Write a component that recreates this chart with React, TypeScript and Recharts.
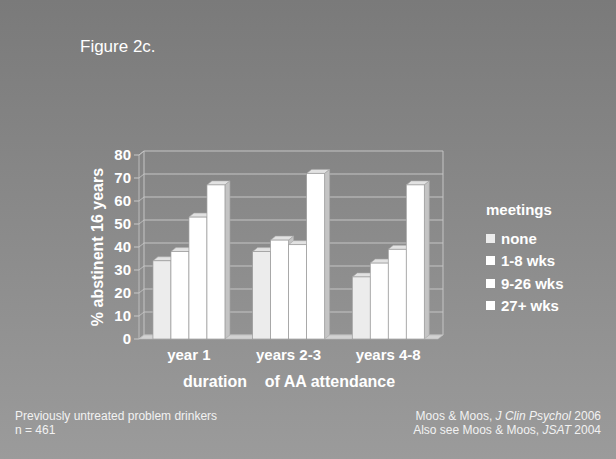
import React from 'react'
import { BarChart, Bar, XAxis, YAxis, CartesianGrid, ReferenceArea } from 'recharts'

const categories = ['year 1', 'years 2-3', 'years 4-8']
const seriesNames = ['none', '1-8 wks', '9-26 wks', '27+ wks']
const seriesKeys = ['none', 'w1_8', 'w9_26', 'w27']
const seriesColors = ['#ececec', '#ffffff', '#ffffff', '#ffffff']
const noneValues = [34, 38, 27]
const w1_8Values = [38, 43, 33]
const w9_26Values = [53, 41, 39]
const w27Values = [67, 72, 67]
const yTicks = [0, 10, 20, 30, 40, 50, 60, 70, 80]

const data = categories.map((c, i) => ({
  name: c,
  none: noneValues[i],
  w1_8: w1_8Values[i],
  w9_26: w9_26Values[i],
  w27: w27Values[i],
}))

// fake 3D depth
const DX = 5
const DY = -4
const font = 'Arial, "Liberation Sans", sans-serif'

function Bar3D(props: any) {
  const { x, y, width, height, fill } = props
  if (width == null || height == null) return null
  return (
    <g>
      <polygon
        points={`${x},${y} ${x + width},${y} ${x + width + DX},${y + DY} ${x + DX},${y + DY}`}
        fill="#e2e2e2"
        stroke="#a8a8a8"
        strokeWidth={0.6}
      />
      <polygon
        points={`${x + width},${y} ${x + width + DX},${y + DY} ${x + width + DX},${y + height + DY} ${x + width},${y + height}`}
        fill="#c4c4c4"
        stroke="#a8a8a8"
        strokeWidth={0.6}
      />
      <rect x={x} y={y} width={width} height={height} fill={fill} stroke="#9a9a9a" strokeWidth={0.7} />
    </g>
  )
}

function Walls(props: any) {
  const { x, y, width, height } = props
  const b = y + height
  return (
    <g>
      <polygon
        points={`${x},${b} ${x + width},${b} ${x + width + DX},${b + DY} ${x + DX},${b + DY}`}
        fill="#d2d2d2"
        stroke="#b8b8b8"
        strokeWidth={0.6}
      />
      <polyline
        points={`${x},${b} ${x},${y} ${x + DX},${y + DY}`}
        fill="none"
        stroke="#c8c8c8"
        strokeWidth={0.8}
      />
      {yTicks.map((t) => {
        const ty = b - (height * t) / 80
        return <line key={t} x1={x} y1={ty} x2={x + DX} y2={ty + DY} stroke="#c8c8c8" strokeWidth={0.8} />
      })}
    </g>
  )
}

export default function App() {
  return (
    <div
      style={{
        position: 'absolute',
        left: 0,
        top: 0,
        width: 616,
        height: 459,
        overflow: 'hidden',
        background: 'linear-gradient(to bottom, #7a7a7a 0%, #9b9b9b 100%)',
        fontFamily: font,
      }}
    >
      <div style={{ position: 'absolute', left: 80, top: 37, fontSize: 17, color: '#fff' }}>Figure 2c.</div>

      <BarChart
        width={616}
        height={459}
        data={data}
        margin={{ top: 155, right: 178, left: 109, bottom: 90 }}
        barCategoryGap="14%"
        barGap={0}
      >
        <CartesianGrid
          x={139 + DX}
          y={155 + DY}
          width={299}
          height={184}
          stroke="#c4c4c4"
          strokeWidth={1}
          horizontalCoordinatesGenerator={({ offset }: any) =>
            yTicks.map((t) => offset.top + offset.height * (1 - t / 80) + DY)
          }
          verticalCoordinatesGenerator={({ offset }: any) => [offset.left + DX, offset.left + offset.width + DX]}
        />
        <ReferenceArea y1={0} y2={80} shape={<Walls />} />
        <XAxis
          dataKey="name"
          axisLine={false}
          tickLine={false}
          height={30}
          tickSize={0}
          tickMargin={0}
          tick={({ x, y, payload }: any) => (
            <text x={x} y={y + 21} textAnchor="middle" fill="#fff" fontSize={15} fontWeight="bold" fontFamily={font}>
              {payload.value}
            </text>
          )}
        />
        <YAxis
          domain={[0, 80]}
          ticks={yTicks}
          width={30}
          interval={0}
          axisLine={false}
          tickSize={5}
          tickMargin={3}
          tickLine={{ stroke: '#c8c8c8' }}
          tick={{ fill: '#fff', fontSize: 15, fontWeight: 'bold', fontFamily: font }}
        />
        {seriesKeys.map((k, i) => (
          <Bar key={k} dataKey={k} name={seriesNames[i]} fill={seriesColors[i]} shape={<Bar3D />} isAnimationActive={false} />
        ))}
      </BarChart>

      <svg style={{ position: 'absolute', left: 0, top: 0 }} width={616} height={459}>
        <text
          x={103}
          y={247}
          transform="rotate(-90 103 247)"
          textAnchor="middle"
          fill="#fff"
          fontSize={16}
          fontWeight="bold"
          fontFamily={font}
        >
          % abstinent 16 years
        </text>
        <text x={183} y={387} fill="#fff" fontSize={16} fontWeight="bold" fontFamily={font} style={{ whiteSpace: 'pre' }}>
          {'duration    of AA attendance'}
        </text>
      </svg>

      <div style={{ position: 'absolute', left: 486, top: 201, color: '#fff', fontSize: 15, fontWeight: 'bold' }}>
        <div style={{ height: 20 }}>meetings</div>
        <div style={{ height: 6 }} />
        {seriesNames.map((n, i) => (
          <div key={n} style={{ display: 'flex', alignItems: 'center', height: 22.5 }}>
            <span style={{ width: 9, height: 9, background: seriesColors[i], marginRight: 6, display: 'inline-block' }} />
            <span>{n}</span>
          </div>
        ))}
      </div>

      <div style={{ position: 'absolute', left: 15, top: 409, fontSize: 12, lineHeight: '14px', color: '#f2f2f2' }}>
        <div>Previously untreated problem drinkers</div>
        <div>n = 461</div>
      </div>
      <div
        style={{
          position: 'absolute',
          right: 15,
          top: 409,
          fontSize: 12,
          lineHeight: '14px',
          color: '#f2f2f2',
          textAlign: 'right',
        }}
      >
        <div>
          Moos &amp; Moos, <i>J Clin Psychol</i> 2006
        </div>
        <div>
          Also see Moos &amp; Moos, <i>JSAT</i> 2004
        </div>
      </div>
    </div>
  )
}
